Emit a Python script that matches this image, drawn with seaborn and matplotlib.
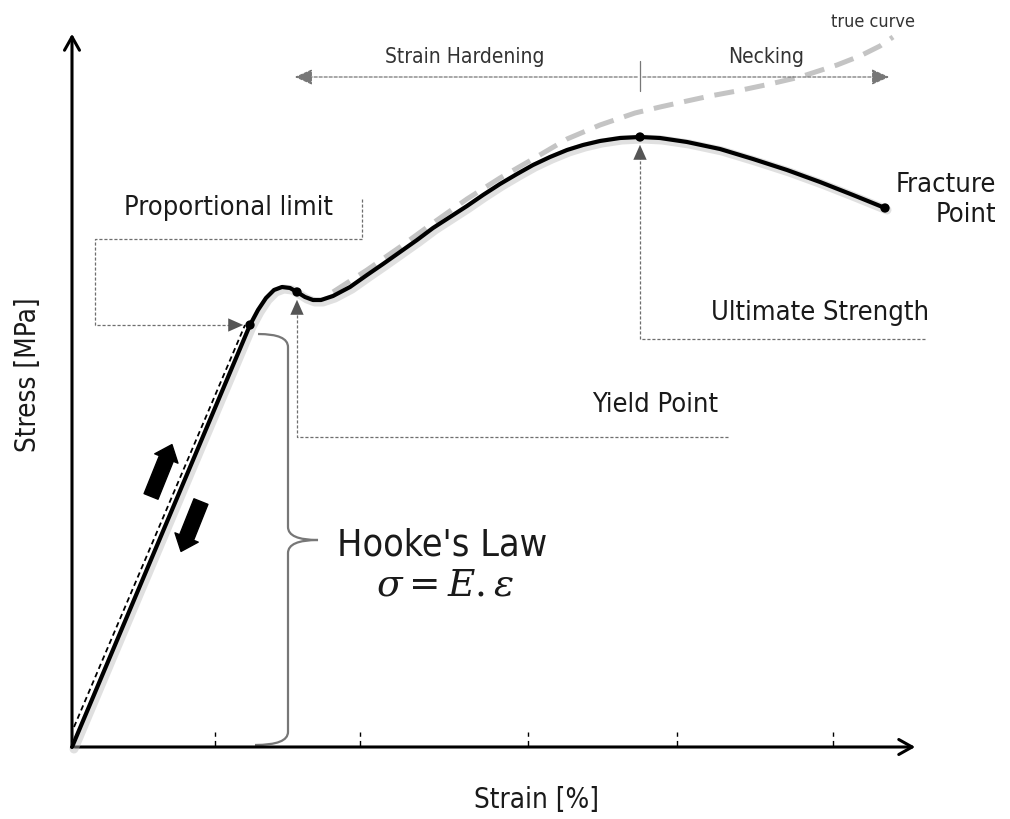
import numpy as np
import pandas as pd
import matplotlib
matplotlib.use('Agg')
import matplotlib.pyplot as plt
from matplotlib.patches import FancyArrowPatch, PathPatch
from matplotlib.path import Path
import seaborn as sns

sns.set_theme(style='white')
plt.rcParams['font.family'] = ['DejaVu Sans']
plt.rcParams['mathtext.fontset'] = 'dejavuserif'

# engineering curve (strain, stress) in drawing units
strain = [0, 178, 186, 194, 202, 210, 218, 225, 233, 241, 249, 261, 278, 295, 311, 328,
          345, 361, 378, 395, 411, 428, 445, 461, 478, 495, 511, 528, 548, 568, 588,
          615, 648, 681, 715, 748, 781, 813]
stress = [0, 422, 437, 449, 457, 460, 459, 455, 450, 447, 447, 451, 460, 472, 483, 495,
          507, 519, 530, 541, 552, 563, 573, 582, 590, 597, 602, 606, 609, 610, 609,
          605, 598, 588, 577, 565, 552, 539]

# true stress-strain curve
true_strain = [261, 295, 328, 361, 395, 428, 461, 495, 528, 563, 588, 615, 638, 665,
               698, 728, 765, 788, 808, 821]
true_stress = [455, 477, 500, 524, 548, 569, 588, 608, 622, 634, 640, 646, 651, 656,
               663, 670, 682, 691, 701, 710]

# elastic (Hooke) line
hooke_strain = [2, 173]
hooke_stress = [20, 422]

# key points
pt_names = ['Proportional limit', 'Yield Point', 'Ultimate Strength', 'Fracture Point']
pt_strain = [178, 225, 568, 813]
pt_stress = [422, 455, 610, 539]

x_ticks = [143, 288, 456, 605, 761]

df = pd.DataFrame({'strain': strain, 'stress': stress})
df_true = pd.DataFrame({'strain': true_strain, 'stress': true_stress})
df_pts = pd.DataFrame({'strain': pt_strain, 'stress': pt_stress, 'name': pt_names})

fig = plt.figure(figsize=(10.1, 8.2), dpi=100)
ax = fig.add_axes([0, 0, 1, 1])
ax.set_xlim(-72, 938)
ax.set_ylim(-72, 748)
ax.axis('off')

font = dict(family='DejaVu Sans', stretch='condensed', color='#1a1a1a')
gray = '#6e6e6e'

# axes with arrows
ax.annotate('', xy=(0, 716), xytext=(0, 0),
            arrowprops=dict(arrowstyle='->,head_length=0.8,head_width=0.45', lw=2.2, color='black'))
ax.annotate('', xy=(846, 0), xytext=(0, 0),
            arrowprops=dict(arrowstyle='->,head_length=0.8,head_width=0.45', lw=2.2, color='black'))
for t in x_ticks:
    ax.plot([t, t], [1, 15], color='black', lw=1, ls=(0, (4, 3)))

# curves
sns.lineplot(data=df_true, x='strain', y='stress', sort=False, estimator=None, ax=ax,
             color='#c4c4c4', lw=3.6, zorder=2).lines[-1].set_dashes([4, 2.2])
sns.lineplot(x=hooke_strain, y=hooke_stress, sort=False, estimator=None, ax=ax,
             color='black', lw=1.3, zorder=3).lines[-1].set_dashes([3, 2])
sns.lineplot(x=[s + 2 for s in strain], y=[v - 2 for v in stress], sort=False, estimator=None,
             ax=ax, color='#bbbbbb', lw=6.5, alpha=0.45, zorder=3)
sns.lineplot(data=df, x='strain', y='stress', sort=False, estimator=None, ax=ax,
             color='black', lw=3, zorder=4)
sns.scatterplot(data=df_pts, x='strain', y='stress', color='black', s=45, ax=ax,
                zorder=5, edgecolor='none')

# loading / unloading arrows
for a, b in [((78, 248), (101, 305)), ((130, 248), (108, 193))]:
    ax.add_patch(FancyArrowPatch(a, b, arrowstyle='simple,head_length=0.6,head_width=1.0,tail_width=0.6',
                                 mutation_scale=18, color='black', zorder=5))

dot = dict(color=gray, lw=0.9, ls=(0, (2.5, 1.5)))
head = dict(arrowstyle='-|>,head_length=0.9,head_width=0.4', color='#555555', lw=0)

# proportional limit leader
ax.plot([290, 290, 23, 23, 165], [548, 508, 508, 422, 422], **dot)
ax.annotate('', xy=(174, 422), xytext=(155, 422), arrowprops=head)
ax.text(156, 540, 'Proportional limit', ha='center', va='center', fontsize=19.5, **font)

# yield leader
ax.plot([656, 225, 225], [310, 310, 440], **dot)
ax.annotate('', xy=(225, 450), xytext=(225, 430), arrowprops=head)
ax.text(583, 343, 'Yield Point', ha='center', va='center', fontsize=19.5, **font)

# ultimate leader
ax.plot([853, 568, 568], [408, 408, 595], **dot)
ax.annotate('', xy=(568, 605), xytext=(568, 585), arrowprops=head)
ax.text(748, 435, 'Ultimate Strength', ha='center', va='center', fontsize=19.5, **font)

ax.text(874, 548, 'Fracture\nPoint', ha='center', va='center', multialignment='right',
        fontsize=19.5, linespacing=1.2, **font)

# strain hardening / necking span
ax.annotate('', xy=(220, 670), xytext=(568, 670),
            arrowprops=dict(arrowstyle='-|>,head_length=0.9,head_width=0.4', color='#777777',
                            lw=0.9, ls=(0, (2.5, 1.5))))
ax.annotate('', xy=(820, 670), xytext=(568, 670),
            arrowprops=dict(arrowstyle='-|>,head_length=0.9,head_width=0.4', color='#777777',
                            lw=0.9, ls=(0, (2.5, 1.5))))
ax.plot([568, 568], [656, 686], color='#777777', lw=0.9)
ax.text(393, 691, 'Strain Hardening', ha='center', va='center', fontsize=15,
        family='DejaVu Sans', stretch='condensed', color='#333333')
ax.text(694, 691, 'Necking', ha='center', va='center', fontsize=15,
        family='DejaVu Sans', stretch='condensed', color='#333333')
ax.text(801, 726, 'true curve', ha='center', va='center', fontsize=13,
        family='DejaVu Sans', stretch='condensed', color='#333333')

# curly brace for Hooke's law region
verts = [(186, 413), (216, 413), (216, 400),
         (216, 220), (216, 207), (246, 207), (216, 207), (216, 194),
         (216, 15), (216, 2), (183, 2)]
codes = [Path.MOVETO, Path.CURVE3, Path.CURVE3,
         Path.LINETO, Path.CURVE3, Path.CURVE3, Path.CURVE3, Path.CURVE3,
         Path.LINETO, Path.CURVE3, Path.CURVE3]
ax.add_patch(PathPatch(Path(verts, codes), fc='none', ec='#777777', lw=1.6))

ax.text(370, 203, "Hooke's Law", ha='center', va='center', fontsize=27, **font)
ax.text(373, 163, r'$\sigma = E.\varepsilon$', ha='center', va='center', fontsize=27,
        color='#1a1a1a')

ax.text(-44, 373, 'Stress [MPa]', ha='center', va='center', rotation=90, fontsize=20, **font)
ax.text(465, -52, 'Strain [%]', ha='center', va='center', fontsize=20, **font)

fig.savefig('out.png', dpi=100)
